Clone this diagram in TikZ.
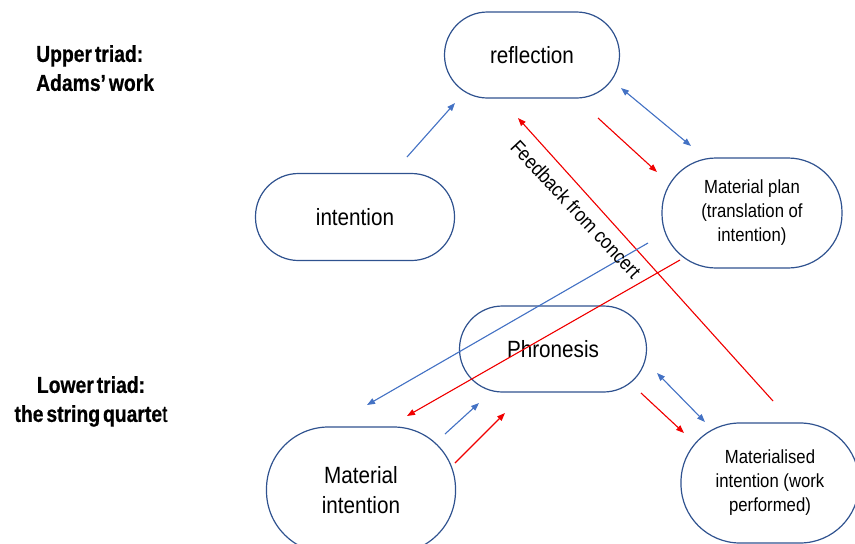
\documentclass[tikz,border=0pt]{standalone}
\usepackage{fontspec}
\setmainfont[FakeStretch=0.88]{Liberation Sans}
\newfontfamily\triadfont[FakeStretch=0.84,FakeBold=0.6,WordSpace=0.55]{Liberation Sans}
\usetikzlibrary{arrows.meta}
\definecolor{outline}{HTML}{2F528F}
\definecolor{flowblue}{HTML}{4472C4}
\definecolor{flowred}{HTML}{F00000}

\begin{document}
\begin{tikzpicture}[x=1pt,y=-1pt,
  stage/.style={draw=outline, line width=1.2pt, rectangle, rounded corners=43pt,
    inner sep=0pt, align=center, font=\fontsize{23.5}{30}\selectfont},
  smalltext/.style={font=\fontsize{19}{24}\selectfont},
  triad/.style={font=\triadfont\bfseries\fontsize{23}{29}\selectfont, inner sep=0pt},
  tip/.style={-{Triangle[length=8pt,width=6pt]}},
  bothtips/.style={{Triangle[length=8pt,width=6pt]}-{Triangle[length=8pt,width=6pt]}},
  bluelink/.style={draw=flowblue, fill=flowblue, line width=1.1pt},
  redlink/.style={draw=flowred, fill=flowred, line width=1.1pt}]
\useasboundingbox (0,0) rectangle (855,544);

% side labels
\node[triad, anchor=north west, align=left] (upper) at (36,45) {Upper triad:\\Adams’ work};
\node[triad, anchor=north, align=center] (lower) at (91,376) {Lower triad:\\the string quarte{\mdseries t}};

% upper triad
\node[stage, minimum width=175pt, minimum height=86pt] (refl) at (532,55) {reflection};
\node[stage, minimum width=199pt, minimum height=87pt] (intent) at (355,217) {intention};
\node[stage, smalltext, minimum width=180pt, minimum height=110pt, rounded corners=54pt] (plan) at (752,213) {Material plan\\(translation of\\intention)};

% lower triad
\node[stage, minimum width=187pt, minimum height=86pt] (phron) at (553,349) {Phronesis};
\node[stage, minimum width=189pt, minimum height=126pt, rounded corners=62pt] (matint) at (361,490) {Material\\intention};
\node[stage, smalltext, minimum width=178pt, minimum height=120pt, rounded corners=59pt] (done) at (770,483) {Materialised\\intention (work\\performed)};

% connector end points
\coordinate (ir0) at (407,157); \coordinate (ir1) at (455,103);
\coordinate (rp0) at (621,88);  \coordinate (rp1) at (691,146);
\coordinate (rq0) at (598,118); \coordinate (rq1) at (657,172);
\coordinate (fb0) at (773,401); \coordinate (fb1) at (518,118);
\coordinate (pb0) at (648,243); \coordinate (pb1) at (367,405);
\coordinate (pr0) at (680,260); \coordinate (pr1) at (407,416);
\coordinate (mb0) at (445,434); \coordinate (mb1) at (479,403);
\coordinate (mr0) at (455,463); \coordinate (mr1) at (505,413);
\coordinate (dq0) at (657,373); \coordinate (dq1) at (705,422);
\coordinate (dr0) at (641,393); \coordinate (dr1) at (684,433);

% connectors
\draw[bluelink, tip] (ir0) -- (ir1);
\draw[bluelink, bothtips] (rp0) -- (rp1);
\draw[redlink, tip] (rq0) -- (rq1);
\draw[redlink, tip] (fb0) -- (fb1);
\draw[bluelink, tip] (pb0) -- (pb1);
\draw[redlink, tip] (pr0) -- (pr1);
\draw[bluelink, tip] (mb0) -- (mb1);
\draw[redlink, tip] (mr0) -- (mr1);
\draw[bluelink, bothtips] (dq0) -- (dq1);
\draw[redlink, tip] (dr0) -- (dr1);

% label along the feedback line
\node[rotate=-47, font=\fontsize{20}{24}\selectfont, inner sep=0pt] (fbtext) at (576,209) {Feedback from concert};
\end{tikzpicture}
\end{document}
